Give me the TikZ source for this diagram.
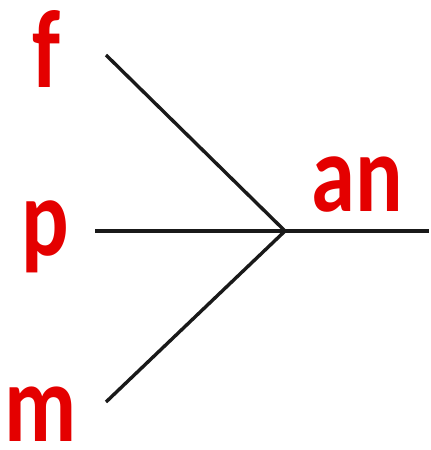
\documentclass[tikz,border=0pt]{standalone}
\usepackage{fontspec}
\setmainfont{Carlito}
\usepackage{graphicx}
\definecolor{lblred}{RGB}{228,0,0}
\tikzset{
  lbl/.style={text=lblred, font=\fontsize{89}{89}\selectfont\bfseries, inner sep=0pt, anchor=base, yscale=1.25},
  wire/.style={line width=3.4bp, draw=black!90}
}
\begin{document}
\begin{tikzpicture}[x=1bp,y=-1bp]
\useasboundingbox (0,0) rectangle (430,450);
\coordinate (j) at (285,231);
\coordinate (fe) at (106,55);
\coordinate (pe) at (95,231);
\coordinate (me) at (106,402);
\coordinate (ae) at (429,231);
\node[lbl] (f) at (47,88) {f};
\node[lbl] (p) at (45,255) {p};
\node[lbl, text depth=0pt] (m) at (41,441) {m};
\node[lbl] (an) at (357,212) {an};
\draw[wire] (fe) -- (j);
\draw[wire] (pe) -- (j);
\draw[wire] (me) -- (j);
\draw[wire] (j) -- (ae);
\end{tikzpicture}
\end{document}
